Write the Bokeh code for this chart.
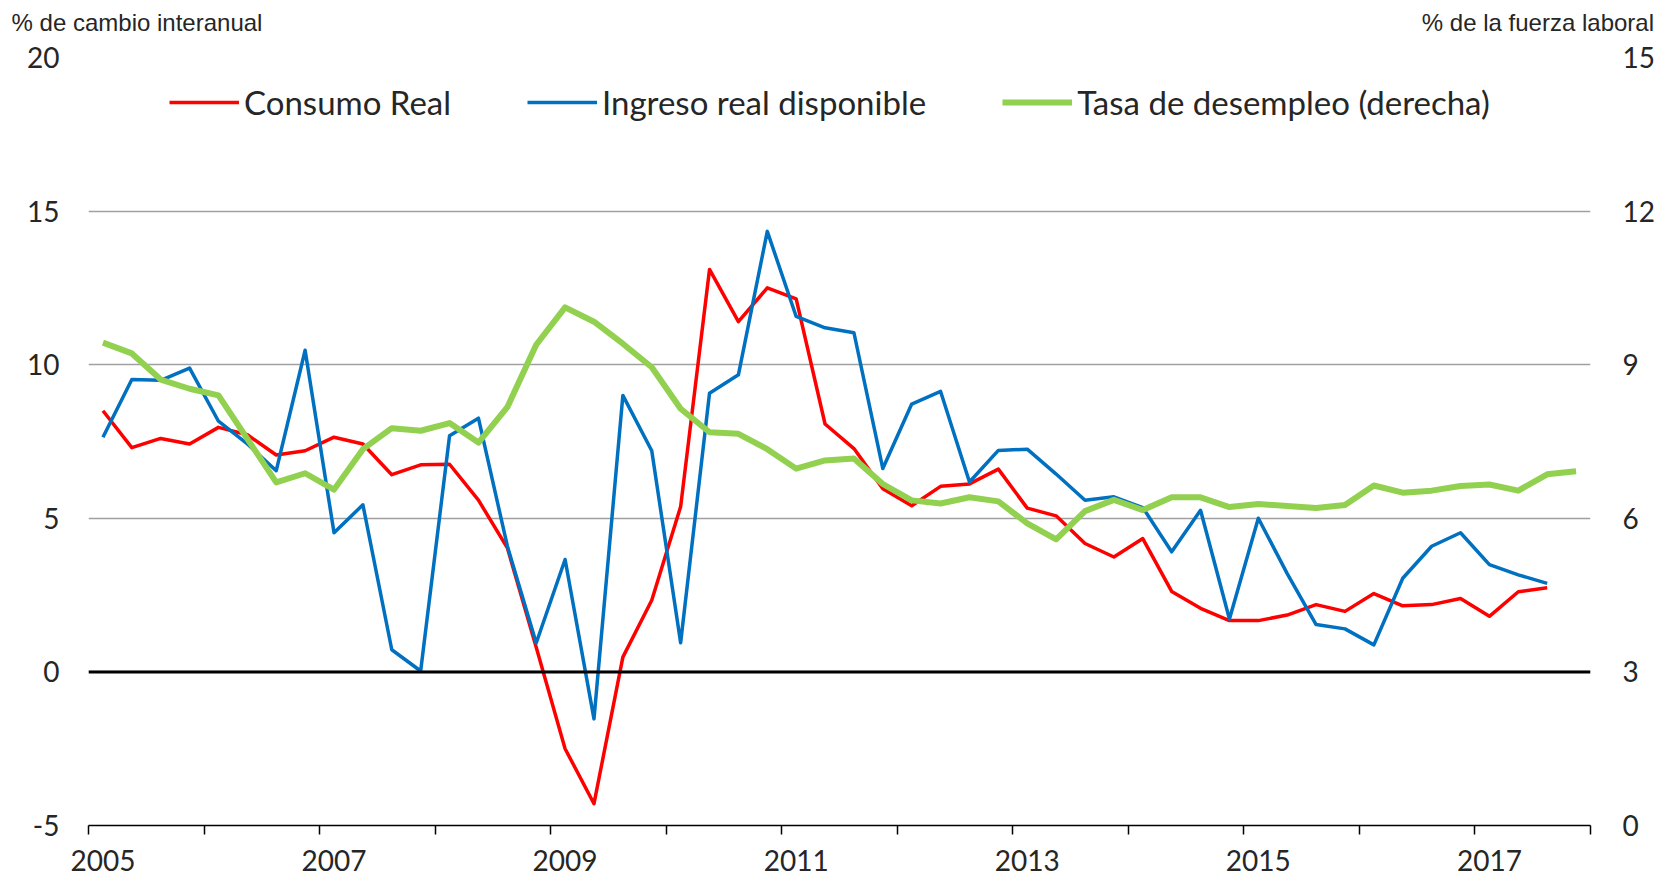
from bokeh.plotting import figure
from bokeh.models import (Range1d, LinearAxis, FixedTicker, CustomJSTickFormatter,
                          Legend, LegendItem, Span)
from bokeh.embed import file_html
from bokeh.resources import INLINE

# ---- data (quarterly, 2005T1 onward) ----
consumo_real = [8.5, 7.3, 7.6, 7.42, 7.96, 7.72, 7.06, 7.2, 7.64, 7.42,
                6.42, 6.74, 6.76, 5.59, 4.04, 0.8, -2.5, -4.29, 0.48, 2.33,
                5.38, 13.1, 11.4, 12.5, 12.14, 8.07, 7.27, 5.96, 5.41, 6.04,
                6.12, 6.6, 5.33, 5.08, 4.18, 3.74, 4.34, 2.62, 2.07, 1.67,
                1.67, 1.85, 2.19, 1.97, 2.55, 2.15, 2.19, 2.39, 1.81, 2.61,
                2.74]
ingreso_real = [7.64, 9.52, 9.49, 9.89, 8.16, 7.42, 6.55, 10.47, 4.53, 5.44,
                0.72, 0.03, 7.69, 8.26, 4.1, 0.94, 3.66, -1.53, 9.0, 7.2,
                0.95, 9.07, 9.67, 14.34, 11.57, 11.2, 11.04, 6.62, 8.72, 9.13,
                6.18, 7.21, 7.25, 6.44, 5.59, 5.7, 5.35, 3.91, 5.26, 1.72,
                5.0, 3.2, 1.54, 1.4, 0.88, 3.05, 4.09, 4.53, 3.49, 3.16,
                2.88]
desempleo = [9.43, 9.22, 8.71, 8.53, 8.4, 7.55, 6.7, 6.88, 6.56, 7.35,
             7.76, 7.71, 7.86, 7.48, 8.17, 9.39, 10.12, 9.84, 9.41, 8.95,
             8.14, 7.68, 7.65, 7.35, 6.97, 7.13, 7.17, 6.67, 6.35, 6.29,
             6.41, 6.33, 5.9, 5.59, 6.14, 6.36, 6.16, 6.41, 6.41, 6.22,
             6.28, 6.24, 6.2, 6.26, 6.64, 6.5, 6.54, 6.63, 6.66, 6.54,
             6.86, 6.92]

first_year = 2005
year_ticks = list(range(2005, 2019))
label_years = [2005, 2007, 2009, 2011, 2013, 2015, 2017]
left_ticks = [-5, 0, 5, 10, 15, 20]
right_ticks = [0, 3, 6, 9, 12, 15]

series_names = ["Consumo Real", "Ingreso real disponible", "Tasa de desempleo (derecha)"]
left_title = "% de cambio interanual"
right_title = "% de la fuerza laboral"

# quarter centres on a continuous year axis
def quarters(n):
    return [first_year + (k + 0.5) / 4 for k in range(n)]

x_c = quarters(len(consumo_real))
x_i = quarters(len(ingreso_real))
x_d = quarters(len(desempleo))

TEXT = "#262626"
FONT = "Lato"

p = figure(frame_width=1502, frame_height=768, output_backend="svg", toolbar_location=None,
           x_range=Range1d(2005, 2018), y_range=Range1d(-5, 20),
           min_border_left=88, min_border_right=81, min_border_top=57,
           min_border_bottom=53, outline_line_color=None)
p.extra_y_ranges = {"right": Range1d(0, 15)}

# grid
p.xgrid.visible = False
p.ygrid.ticker = FixedTicker(ticks=left_ticks)
p.ygrid.grid_line_color = "#A0A0A0"
p.ygrid.grid_line_width = 1.5

# left axis
ya = p.yaxis[0]
ya.ticker = FixedTicker(ticks=left_ticks)
ya.formatter = CustomJSTickFormatter(code="return tick.toFixed(0);")
ya.axis_line_color = None
ya.major_tick_line_color = None
ya.minor_tick_line_color = None
ya.major_tick_out = 0
ya.major_label_standoff = 29
ya.major_label_text_font = FONT
ya.major_label_text_font_size = "28px"
ya.major_label_text_color = TEXT

# right axis
ra = LinearAxis(y_range_name="right", ticker=FixedTicker(ticks=right_ticks),
                formatter=CustomJSTickFormatter(code="return tick.toFixed(0);"))
ra.axis_line_color = None
ra.major_tick_line_color = None
ra.minor_tick_line_color = None
ra.major_tick_out = 0
ra.major_label_standoff = 32
ra.major_label_text_font = FONT
ra.major_label_text_font_size = "28px"
ra.major_label_text_color = TEXT
p.add_layout(ra, "right")

# bottom axis: tick marks at year boundaries, labels at first quarter of odd years
xa = p.xaxis[0]
xa.ticker = FixedTicker(ticks=[y + 0.125 for y in label_years], minor_ticks=year_ticks)
xa.formatter = CustomJSTickFormatter(code="return Math.floor(tick).toFixed(0);")
xa.major_tick_line_color = None
xa.major_tick_out = 0
xa.major_tick_in = 0
xa.minor_tick_in = 0
xa.minor_tick_out = 9
xa.minor_tick_line_color = "black"
xa.minor_tick_line_width = 1.5
xa.axis_line_color = "black"
xa.axis_line_width = 1.5
xa.major_label_standoff = 15
xa.major_label_text_font = FONT
xa.major_label_text_font_size = "28px"
xa.major_label_text_color = TEXT

# headers above the plot: an unlined axis whose two labels are the axis units
head = LinearAxis(ticker=FixedTicker(ticks=[2005.42, 2017.545]),
                  formatter=CustomJSTickFormatter(
                      args=dict(left=left_title, right=right_title),
                      code="return tick < 2011 ? left : right;"))
head.axis_line_color = None
head.major_tick_line_color = None
head.minor_tick_line_color = None
head.major_tick_out = 0
head.major_tick_in = 0
head.major_label_standoff = 22
head.major_label_text_font = "Liberation Sans"
head.major_label_text_font_size = "24px"
head.major_label_text_color = TEXT
p.add_layout(head, "above")

# zero line
p.add_layout(Span(location=0, dimension="width", line_color="black", line_width=3))

r1 = p.line(x_c, consumo_real, line_color="#FF0000", line_width=3.5, line_join="round")
r2 = p.line(x_i, ingreso_real, line_color="#0070C0", line_width=3.5, line_join="round")
r3 = p.line(x_d, desempleo, line_color="#92D050", line_width=6, line_join="round",
            y_range_name="right")

legend = Legend(items=[LegendItem(label=series_names[0], renderers=[r1]),
                       LegendItem(label=series_names[1], renderers=[r2]),
                       LegendItem(label=series_names[2], renderers=[r3])],
                orientation="horizontal", location=(81, 703),
                glyph_width=70, glyph_height=30, label_height=30, label_standoff=5,
                spacing=76, padding=0, margin=0,
                border_line_color=None, background_fill_alpha=0,
                label_text_font=FONT, label_text_font_size="33px",
                label_text_color=TEXT)
p.add_layout(legend, "center")

with open("out.html", "w") as f:
    f.write(file_html(p, INLINE))
